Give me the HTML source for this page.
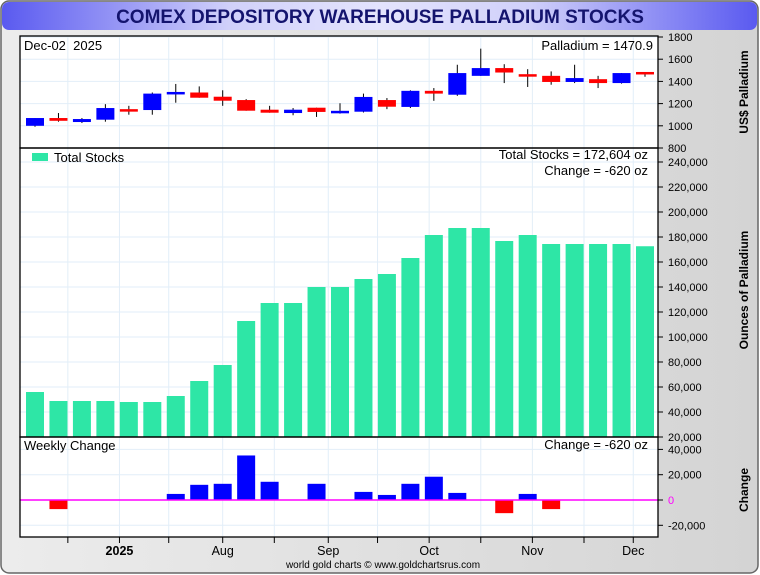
<!DOCTYPE html>
<html><head><meta charset="utf-8"><style>
html,body{margin:0;padding:0;width:760px;height:575px;overflow:hidden;background:#fff;font-family:"Liberation Sans",sans-serif}
</style></head><body>
<svg id="chart" width="760" height="575" xmlns="http://www.w3.org/2000/svg">
<defs>
<linearGradient id="bg" x1="0" y1="0" x2="1" y2="0"><stop offset="0" stop-color="#ececec"/><stop offset="1" stop-color="#d4d4d4"/></linearGradient>
<linearGradient id="tb" x1="0" y1="0" x2="1" y2="0"><stop offset="0" stop-color="#5a5af0"/><stop offset="0.3" stop-color="#d0d0fa"/><stop offset="0.5" stop-color="#e4e4fd"/><stop offset="0.7" stop-color="#d0d0fa"/><stop offset="1" stop-color="#5a5af0"/></linearGradient>
</defs>
<rect x="1" y="1" width="757" height="572" rx="8" fill="url(#bg)" stroke="#666" stroke-width="1.5"/>
<rect x="2" y="2" width="755" height="28" rx="7" fill="url(#tb)"/>
<text x="380" y="23" text-anchor="middle" font-size="19" font-weight="bold" fill="#14146e">COMEX DEPOSITORY WAREHOUSE PALLADIUM STOCKS</text>
<rect x="20" y="36" width="638" height="501" fill="#fff"/>
<g id="g"></g>
</svg>
<script>
const priceOpen  = [1000,1070,1034,1055,1150,1142,1293,1300,1262,1232,1145,1115,1163,1128,1127,1232,1170,1315,1280,1450,1520,1465,1450,1395,1420,1385,1485];
const priceClose = [1070,1045,1061,1160,1145,1290,1305,1253,1226,1136,1118,1145,1125,1135,1260,1172,1315,1290,1475,1520,1480,1450,1395,1430,1385,1475,1470.9];
const priceHigh  = [1070,1115,1070,1195,1180,1300,1377,1355,1320,1240,1180,1160,1163,1203,1290,1250,1320,1340,1550,1695,1555,1510,1490,1550,1450,1475,1485];
const priceLow   = [992,1037,1025,1037,1100,1100,1208,1253,1180,1136,1118,1095,1080,1110,1120,1150,1160,1225,1270,1450,1385,1350,1370,1385,1340,1380,1442];
const stocks = [56000,48800,48800,48800,48000,48000,52800,64800,77600,112800,127200,127200,140000,140000,146400,150400,163200,181600,187200,187200,176800,181600,174400,174400,174400,174400,172604];
const changes = [0,-7200,0,0,-800,0,4800,12000,12800,35200,14400,0,12800,0,6400,4000,12800,18400,5600,0,-10400,4800,-7200,0,0,0,-620];
const priceTicks = [800,1000,1200,1400,1600,1800];
const stockTicks = [20000,40000,60000,80000,100000,120000,140000,160000,180000,200000,220000,240000];
const changeTicks = [-20000,0,20000,40000];
const monthLabels = ["2025","Aug","Sep","Oct","Nov","Dec"];
const monthPos = [3.6,8.0,12.5,16.8,21.2,25.5];
const minorTicks = [1.4,3.6,5.7,8.0,10.2,12.5,14.6,16.8,19.0,21.2,23.4,25.5];

const NS="http://www.w3.org/2000/svg";
const g=document.getElementById('g');
function el(t,a,txt){const e=document.createElementNS(NS,t);for(const k in a)e.setAttribute(k,a[k]);if(txt!==undefined)e.textContent=txt;g.appendChild(e);return e;}
const L=20,R=658;
const xi=i=>35+i*(610/26);
const yP=v=>148-(v-800)*0.111;
const yS=v=>462-v*0.00125;
const yC=v=>500-v*0.001265;
const bw=18;

for(const t of minorTicks){const x=xi(t);
 const e=el('line',{x1:x,x2:x,y1:36,y2:537,stroke:'#e2eef8','stroke-width':1});
 
 }
for(const t of priceTicks){const e=el('line',{x1:L,x2:R,y1:yP(t),y2:yP(t),stroke:'#e2eef8'});}
for(const t of stockTicks){const e=el('line',{x1:L,x2:R,y1:yS(t),y2:yS(t),stroke:'#e2eef8'});}
for(const t of changeTicks){const e=el('line',{x1:L,x2:R,y1:yC(t),y2:yC(t),stroke:'#e2eef8'});}

for(let i=0;i<priceOpen.length;i++){
 const x=xi(i),o=priceOpen[i],c=priceClose[i],up=c>=o,col=up?'#0000ff':'#ff0000';
 const w=el('line',{x1:x,x2:x,y1:yP(priceHigh[i]),y2:yP(priceLow[i]),stroke:'#000','stroke-width':1});
 
 
 const top=yP(Math.max(o,c)),h=Math.max(2.5,yP(Math.min(o,c))-top);
 const b=el('rect',{x:x-bw/2,y:top,width:bw,height:h,fill:col});
 
 
}
for(let i=0;i<stocks.length;i++){
 const b=el('rect',{x:xi(i)-bw/2,y:yS(stocks[i]),width:bw,height:437-yS(stocks[i]),fill:'#2ee6a6'});
 
 
}
for(let i=0;i<changes.length;i++){
 const v=changes[i];if(Math.abs(v)<1000)continue;
 const y0=yC(Math.max(v,0)),h=Math.abs(yC(v)-yC(0));
 const b=el('rect',{x:xi(i)-bw/2,y:y0,width:bw,height:h,fill:v>0?'#0000ff':'#ff0000'});
 
 
}
const zl=el('line',{x1:L,x2:R,y1:yC(0),y2:yC(0),stroke:'#ff00ff','stroke-width':1.5});



for(const r of [[36,148],[148,437],[437,537]]){const e=el('rect',{x:L,y:r[0],width:R-L,height:r[1]-r[0],fill:'none',stroke:'#000','stroke-width':1.3});}

function tick(y,label,color,name){
 const t=el('line',{x1:R,x2:R+5,y1:y,y2:y,stroke:'#000'});
 const e=el('text',{x:668,y:y+4,'font-size':11,fill:color||'#000'},label);
 
 }
for(const t of priceTicks)tick(yP(t),String(t),null,'price-tick-label');
for(const t of stockTicks)tick(yS(t),t.toLocaleString('en-US'),null,'stock-tick-label');
for(const t of changeTicks)tick(yC(t),t.toLocaleString('en-US'),t===0?'#ff00ff':null,'change-tick-label');

for(const t of minorTicks){const e=el('line',{x1:xi(t),x2:xi(t),y1:537,y2:543,stroke:'#000'});}
for(let i=0;i<monthLabels.length;i++){
 const e=el('text',{x:xi(monthPos[i]),y:555,'text-anchor':'middle','font-size':12.5,'font-weight':i===0?'bold':'normal'},monthLabels[i]);
 
 }

function txt(x,y,s,size,anchor,name,extra){const a=Object.assign({x:x,y:y,'font-size':size,'text-anchor':anchor||'start'},extra||{});const e=el('text',a,s);}
txt(24,50,'Dec-02\u00a0\u00a02025',13,'start','date-label');
txt(653,50,'Palladium = 1470.9',13,'end','price-value-label');
txt(648,159,'Total Stocks = 172,604 oz',13,'end','total-stocks-label');
txt(648,175,'Change = -620 oz',13,'end','change-label');
txt(24,450,'Weekly Change',13,'start','weekly-change-title');
txt(648,449,'Change = -620 oz',13,'end','weekly-change-value');
txt(383,568,'world gold charts © www.goldchartsrus.com',10,'middle','credit');
const lg=el('rect',{x:32,y:153,width:16,height:8,fill:'#2ee6a6'});


txt(54,162,'Total Stocks',13,'start','legend-label');
txt(748,92,'US$ Palladium',12,'middle','price-axis-title',{transform:'rotate(-90 748 92)','font-weight':'bold'});
txt(748,290,'Ounces of Palladium',12,'middle','stock-axis-title',{transform:'rotate(-90 748 290)','font-weight':'bold'});
txt(748,490,'Change',12,'middle','change-axis-title',{transform:'rotate(-90 748 490)','font-weight':'bold'});
</script>
</body></html>
